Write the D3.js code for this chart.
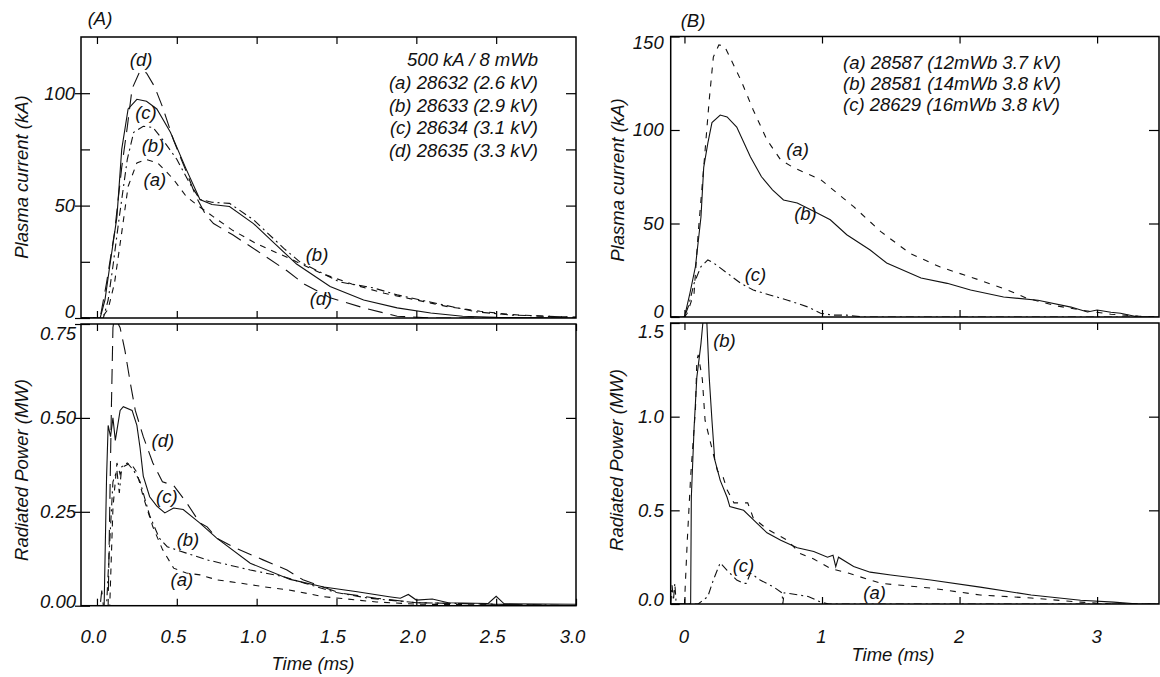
<!DOCTYPE html>
<html>
<head>
<meta charset="utf-8">
<title>Plasma current and radiated power</title>
<style>
  html, body {margin: 0; padding: 0; background: #fff;}
  svg {display: block;}
  text {font-family: "Liberation Sans", Arial, Helvetica, sans-serif; font-style: italic; font-size: 18.5px; fill: #111;}
  .frame {fill: none; stroke: #000; stroke-width: 1.5px;}
  .tick line {stroke: #000; stroke-width: 1.2px;}
  .trace {fill: none; stroke: #111; stroke-width: 1.1px;}
</style>
</head>
<body>
<div id="chart"></div>
<script src="https://cdn.jsdelivr.net/npm/d3@7"></script>
<script>
// ---- data: [time (ms), value] ----
// (A) plasma current, kA
var ipA_a = [[-0.1,0],[0.03,0],[0.07,4],[0.11,15.6],[0.155,38],[0.195,58.5],[0.25,69],[0.31,70.5],[0.38,69],[0.44,64.7],[0.48,61.6],[0.56,54],[0.64,49.6],[0.73,45],[0.85,39],[1.0,33],[1.19,27],[1.4,20],[1.6,15],[1.8,11],[2.0,8],[2.2,5],[2.4,3],[2.6,1.5],[2.8,0.8],[3.0,0.4]];
var ipA_b = [[-0.1,0],[0.04,0],[0.07,8],[0.1,23],[0.14,45],[0.19,70.6],[0.23,82.6],[0.29,85.3],[0.35,84.8],[0.41,79.5],[0.5,70.6],[0.58,60],[0.645,52.7],[0.72,51.5],[0.83,51],[0.98,43.7],[1.17,31],[1.27,25],[1.52,16],[1.73,13.4],[1.88,10.3],[2.17,5.8],[2.38,2.7],[2.6,1.3],[2.92,0.5],[3.0,0.3]];
var ipA_c = [[-0.1,0],[0.02,0],[0.05,8],[0.08,23],[0.125,45],[0.155,75],[0.195,93],[0.25,97.3],[0.31,96.4],[0.375,93],[0.46,82.6],[0.56,66],[0.645,52.7],[0.72,50.5],[0.83,49.6],[0.98,42],[1.1,34],[1.25,24],[1.46,14],[1.67,8],[1.88,4.5],[2.09,2.2],[2.29,0.8],[2.5,0.3],[3.0,0]];
var ipA_d = [[-0.1,0],[0.02,0],[0.06,15.6],[0.11,38],[0.155,67],[0.19,85],[0.22,102],[0.27,110],[0.31,109],[0.36,103],[0.41,94],[0.48,79],[0.56,65],[0.62,54],[0.68,46],[0.73,42],[0.85,37],[1.0,30],[1.19,21],[1.3,15],[1.46,9],[1.67,4.5],[1.88,0.8],[2.1,0],[3.0,0]];

// (A) radiated power, MW
var prA_a = [[-0.1,0],[0.08,0],[0.1,0.26],[0.125,0.38],[0.145,0.35],[0.165,0.37],[0.21,0.38],[0.25,0.355],[0.29,0.29],[0.35,0.21],[0.41,0.15],[0.48,0.10],[0.56,0.087],[0.645,0.082],[0.75,0.069],[0.9,0.06],[1.05,0.05],[1.2,0.042],[1.42,0.024],[1.63,0.015],[1.75,0.01],[2.0,0.004],[3.0,0]];
var prA_b = [[-0.1,0],[0.06,0],[0.08,0.17],[0.1,0.33],[0.125,0.36],[0.14,0.3],[0.155,0.37],[0.19,0.38],[0.23,0.36],[0.27,0.33],[0.33,0.24],[0.39,0.18],[0.44,0.157],[0.56,0.14],[0.69,0.122],[0.96,0.095],[1.17,0.077],[1.3,0.06],[1.5,0.035],[1.7,0.02],[2.0,0.008],[3.0,0]];
var prA_c = [[-0.1,0],[0.045,0],[0.06,0.34],[0.07,0.48],[0.085,0.45],[0.1,0.5],[0.115,0.44],[0.145,0.52],[0.165,0.53],[0.22,0.52],[0.25,0.48],[0.27,0.42],[0.29,0.345],[0.33,0.29],[0.375,0.265],[0.425,0.247],[0.48,0.26],[0.54,0.256],[0.645,0.22],[0.75,0.18],[0.96,0.113],[1.21,0.07],[1.42,0.05],[1.63,0.037],[1.83,0.024],[1.9,0.02],[1.95,0.03],[2.0,0.015],[2.1,0.018],[2.2,0.008],[2.45,0.006],[2.5,0.025],[2.55,0.005],[3.0,0.004]];
var prA_d = [[-0.1,0],[0.02,0],[0.03,0.04],[0.04,0],[0.07,0],[0.08,0.26],[0.09,0.52],[0.1,0.74],[0.11,0.77],[0.145,0.74],[0.175,0.68],[0.21,0.59],[0.24,0.52],[0.29,0.45],[0.35,0.38],[0.41,0.33],[0.48,0.32],[0.56,0.275],[0.645,0.22],[0.69,0.21],[0.75,0.18],[0.85,0.157],[1.04,0.122],[1.19,0.095],[1.29,0.069],[1.52,0.034],[1.75,0.02],[2.0,0.008],[3.0,0]];

// (B) plasma current, kA
var ipB_a = [[-0.1,0],[0.0,0],[0.02,2],[0.07,12.8],[0.1,45],[0.14,80],[0.18,116],[0.21,139],[0.25,145.5],[0.29,145],[0.33,139],[0.41,126.7],[0.5,110.7],[0.6,94.7],[0.7,84],[0.79,80],[0.99,73.5],[1.23,59],[1.43,45.5],[1.64,34],[1.86,26.7],[2.1,20.9],[2.35,14.4],[2.49,10],[2.7,6],[2.9,3.5],[3.1,1.5],[3.3,0.5],[3.45,0]];
var ipB_b = [[-0.1,0],[0.0,0],[0.04,12.8],[0.08,27],[0.12,53.5],[0.14,80],[0.17,93],[0.2,104],[0.26,108],[0.31,107],[0.38,101.6],[0.48,85.6],[0.56,75],[0.64,68],[0.72,62.6],[0.82,61],[0.94,56.5],[1.06,52],[1.18,44],[1.35,35.8],[1.47,28.9],[1.72,20.9],[1.91,18],[2.08,14.4],[2.32,10.7],[2.57,9],[2.81,5.3],[2.93,2.7],[3.0,3.7],[3.1,2.5],[3.17,2],[3.3,0],[3.45,0]];
var ipB_c = [[-0.1,0],[0.0,0],[0.03,6],[0.07,18],[0.12,27],[0.17,30.5],[0.21,29],[0.31,23.5],[0.41,18],[0.5,14.4],[0.62,11.8],[0.75,9],[0.9,5.3],[0.99,2],[1.08,1],[1.18,1],[1.3,0],[3.45,0]];

// (B) radiated power, MW
var prB_a = [[-0.1,0],[0.0,0],[0.02,0.33],[0.045,0.68],[0.08,1.04],[0.09,1.3],[0.1,1.33],[0.13,1.2],[0.15,0.98],[0.19,0.86],[0.24,0.71],[0.28,0.68],[0.31,0.61],[0.36,0.54],[0.46,0.54],[0.5,0.46],[0.6,0.4],[0.75,0.34],[0.84,0.27],[0.94,0.24],[1.06,0.19],[1.19,0.165],[1.43,0.11],[1.79,0.085],[2.15,0.048],[2.52,0.032],[2.88,0.01],[3.1,0],[3.45,0]];
var prB_b = [[-0.1,0],[0.045,0],[0.05,0.57],[0.07,0.94],[0.09,1.21],[0.12,1.39],[0.14,1.55],[0.16,1.55],[0.18,1.21],[0.2,0.98],[0.22,0.77],[0.26,0.66],[0.31,0.57],[0.33,0.52],[0.43,0.5],[0.5,0.45],[0.6,0.38],[0.7,0.34],[0.82,0.3],[0.94,0.28],[1.04,0.25],[1.08,0.26],[1.1,0.2],[1.12,0.25],[1.23,0.2],[1.35,0.17],[1.5,0.155],[1.79,0.128],[2.15,0.09],[2.52,0.048],[2.88,0.02],[3.12,0.01],[3.3,0],[3.45,0]];
var prB_c = [[-0.1,0],[-0.09,0.1],[-0.08,0.02],[-0.07,0.11],[-0.06,0],[0.1,0],[0.17,0.04],[0.21,0.128],[0.26,0.22],[0.31,0.18],[0.38,0.128],[0.43,0.11],[0.45,0.11],[0.48,0.165],[0.55,0.128],[0.65,0.09],[0.71,0.059],[0.715,0],[0.725,0.06],[0.9,0.04],[0.99,0.01],[1.05,0],[3.45,0]];

// tick values
var tickA_x = [0, 0.5, 1.0, 1.5, 2.0, 2.5, 3.0];
var tickA_ip = [0, 50, 100], minorA_ip = [25, 75];
var tickA_pr = [0, 0.25, 0.5, 0.75];
var tickB_x = [0, 1, 2, 3];
var tickB_ip = [0, 50, 100, 150];
var tickB_pr = [0, 0.5, 1.0, 1.5];

// legends and curve labels [text, time, value]
var legendA = ["500 kA / 8 mWb", "(a) 28632 (2.6 kV)", "(b) 28633 (2.9 kV)", "(c) 28634 (3.1 kV)", "(d) 28635 (3.3 kV)"];
var legendB = ["(a) 28587 (12mWb 3.7 kV)", "(b) 28581 (14mWb 3.8 kV)", "(c) 28629 (16mWb 3.8 kV)"];
var labA_ip = [["(d)",0.276,115.2],["(c)",0.307,91.5],["(b)",0.351,76.8],["(a)",0.363,61.6],["(b)",1.378,28.1],["(d)",1.403,8.5]];
var labA_pr = [["(d)",0.413,0.441],["(c)",0.438,0.291],["(b)",0.570,0.176],["(a)",0.532,0.071]];
var labB_ip = [["(a)",0.822,89.8],["(b)",0.88,55.1],["(c)",0.516,22.5]];
var labB_pr = [["(b)",0.291,1.404],["(c)",0.429,0.208],["(a)",1.382,0.059]];

var W = 1160, H = 677;
var svg = d3.select("#chart").append("svg").attr("width", W).attr("height", H);

var clipId = 0;
function panel(cfg) {
    var x = cfg.x, y = cfg.y;
    var x0 = x.range()[0], x1 = x.range()[1];
    var y0 = y.range()[1], y1 = y.range()[0];
    var g = svg.append("g");
    var id = "clip" + (clipId++);
    g.append("clipPath").attr("id", id).append("rect")
        .attr("x", x0).attr("y", y0).attr("width", x1 - x0).attr("height", y1 - y0);

    var line = d3.line().x(function(d) {return x(d[0]);}).y(function(d) {return y(d[1]);});
    var curves = g.append("g").attr("clip-path", "url(#" + id + ")");
    cfg.series.forEach(function(s) {
        curves.append("path").attr("class", "trace").attr("d", line(s.pts))
            .attr("stroke-dasharray", s.dash || null);
    });

    // x ticks, inside, bottom and top
    var xb = g.append("g").attr("transform", "translate(0," + y1 + ")")
        .call(d3.axisBottom(x).tickValues(cfg.xTicks).tickSize(-7).tickPadding(cfg.xPad)
            .tickFormat(cfg.xLabels ? cfg.xFmt : ""));
    xb.select(".domain").remove();
    xb.selectAll(".tick text").attr("dx", cfg.xdx);
    var xt = g.append("g").attr("transform", "translate(0," + y0 + ")")
        .call(d3.axisTop(x).tickValues(cfg.xTicks).tickSize(-7).tickFormat(""));
    xt.select(".domain").remove();

    // y ticks left with labels, right without
    var yl = g.append("g").attr("transform", "translate(" + x0 + ",0)")
        .call(d3.axisLeft(y).tickValues(cfg.yTicks).tickSize(-9).tickPadding(cfg.yPad).tickFormat(cfg.yFmt));
    yl.select(".domain").remove();
    if (cfg.cross) yl.selectAll(".tick line").attr("x1", -6);
    var dom = y.domain();
    yl.selectAll(".tick text").attr("y", function(d) {
        if (d === dom[0]) return cfg.shiftMin;
        if (d === dom[1]) return cfg.shiftMax;
        return 0;
    });
    var allY = cfg.yTicks.concat(cfg.yMinor || []);
    if (cfg.yMinor) {
        var ym = g.append("g").attr("transform", "translate(" + x0 + ",0)")
            .call(d3.axisLeft(y).tickValues(cfg.yMinor).tickSize(-9).tickFormat(""));
        ym.select(".domain").remove();
    }
    var yr = g.append("g").attr("transform", "translate(" + x1 + ",0)")
        .call(d3.axisRight(y).tickValues(allY.filter(function(v) {return v > dom[0] && v < dom[1];}))
            .tickSize(-10).tickFormat(""));
    yr.select(".domain").remove();

    g.append("rect").attr("class", "frame")
        .attr("x", x0).attr("y", y0).attr("width", x1 - x0).attr("height", y1 - y0);

    // axis title
    g.append("text").attr("transform", "translate(" + cfg.title[1] + "," + cfg.title[2] + ") rotate(-90)")
        .attr("text-anchor", "middle").attr("dy", "0.35em").text(cfg.title[0]);

    // curve labels
    g.selectAll(".clabel").data(cfg.labels).enter().append("text")
        .attr("class", "clabel")
        .attr("x", function(d) {return x(d[1]);})
        .attr("y", function(d) {return y(d[2]);})
        .attr("dy", "0.35em").attr("text-anchor", "middle")
        .text(function(d) {return d[0];});
}

var xA = d3.scaleLinear().domain([-0.1, 3.0]).range([81, 576]);
var xB = d3.scaleLinear().domain([-0.1, 3.45]).range([670.7, 1159]);
var yA1 = d3.scaleLinear().domain([0, 125]).range([318, 37]);
var yA2 = d3.scaleLinear().domain([0, 0.75]).range([605.7, 324]);
var yB1 = d3.scaleLinear().domain([0, 150]).range([317, 36.5]);
var yB2 = d3.scaleLinear().domain([0, 1.5]).range([604, 323]);

var dashA = {a: "6,6", b: "8,4,2,4", c: null, d: "15,8"};
var dashB = {a: "6,7", b: null, c: "8,4,2,4"};

panel({x: xA, y: yA1, xTicks: tickA_x.slice(0, 6), xLabels: false, xPad: 0, xdx: 0,
    yTicks: tickA_ip, yMinor: minorA_ip, yFmt: d3.format("d"), yPad: 6, cross: true, shiftMin: -6, shiftMax: 0,
    title: ["Plasma current (kA)", 22, 177], labels: labA_ip,
    series: [{pts: ipA_a, dash: dashA.a}, {pts: ipA_b, dash: dashA.b}, {pts: ipA_c, dash: dashA.c}, {pts: ipA_d, dash: dashA.d}]});

panel({x: xA, y: yA2, xTicks: tickA_x, xLabels: true, xFmt: d3.format(".1f"), xPad: 24, xdx: -4,
    yTicks: tickA_pr, yFmt: d3.format(".2f"), yPad: 5, cross: true, shiftMin: -4, shiftMax: 10,
    title: ["Radiated Power (MW)", 22, 470], labels: labA_pr,
    series: [{pts: prA_a, dash: dashA.a}, {pts: prA_b, dash: dashA.b}, {pts: prA_c, dash: dashA.c}, {pts: prA_d, dash: dashA.d}]});

panel({x: xB, y: yB1, xTicks: tickB_x, xLabels: false, xPad: 0, xdx: 0,
    yTicks: tickB_ip, yFmt: d3.format("d"), yPad: 7, cross: false, shiftMin: -5, shiftMax: 6,
    title: ["Plasma current (kA)", 618, 180], labels: labB_ip,
    series: [{pts: ipB_a, dash: dashB.a}, {pts: ipB_b, dash: dashB.b}, {pts: ipB_c, dash: dashB.c}]});

panel({x: xB, y: yB2, xTicks: tickB_x, xLabels: true, xFmt: d3.format("d"), xPad: 26, xdx: -1,
    yTicks: tickB_pr, yFmt: d3.format(".1f"), yPad: 7, cross: false, shiftMin: -4, shiftMax: 9,
    title: ["Radiated Power (MW)", 617, 460], labels: labB_pr,
    series: [{pts: prB_a, dash: dashB.a}, {pts: prB_b, dash: dashB.b}, {pts: prB_c, dash: dashB.c}]});

// x titles, panel tags, legends
svg.append("text").attr("x", 313).attr("y", 670).attr("text-anchor", "middle").text("Time (ms)");
svg.append("text").attr("x", 893).attr("y", 661).attr("text-anchor", "middle").text("Time (ms)");
svg.append("text").attr("x", 100).attr("y", 19).attr("dy", "0.35em").attr("text-anchor", "middle").text("(A)");
svg.append("text").attr("x", 693).attr("y", 21).attr("dy", "0.35em").attr("text-anchor", "middle").text("(B)");

svg.selectAll(".legA").data(legendA).enter().append("text")
    .attr("class", "legA").attr("x", 538).attr("y", function(d, i) {return 66 + i * 22.8;})
    .attr("text-anchor", "end").text(function(d) {return d;});
svg.selectAll(".legB").data(legendB).enter().append("text")
    .attr("class", "legB").attr("x", 843).attr("y", function(d, i) {return 69 + i * 21;})
    .text(function(d) {return d;});
</script>
</body>
</html>
